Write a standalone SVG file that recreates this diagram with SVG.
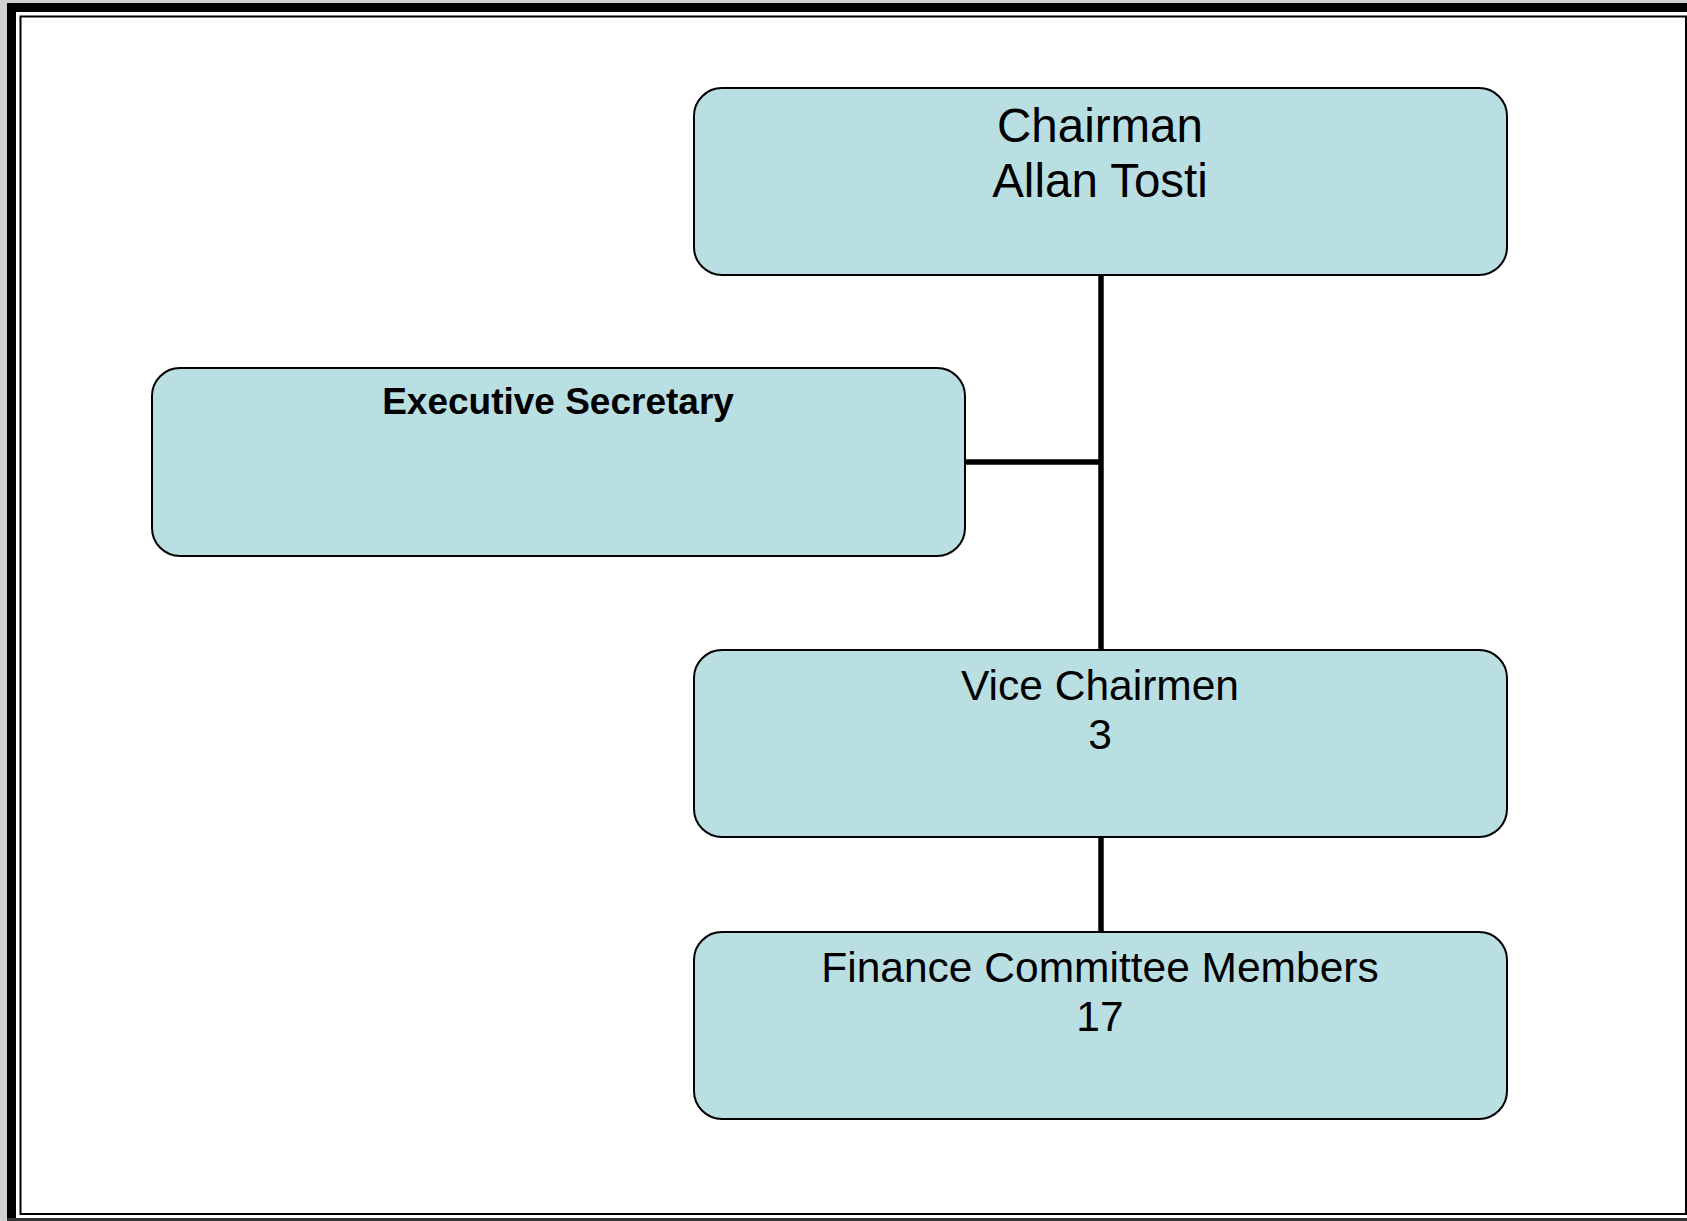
<svg xmlns="http://www.w3.org/2000/svg" width="1687" height="1221" viewBox="0 0 1687 1221">
  <style>
    .node { fill: #badfe3; stroke: #000; stroke-width: 2; }
    .t { font-family: "Liberation Sans", Arial, sans-serif; fill: #000; text-anchor: middle; }
    .conn { stroke: #000; stroke-width: 5.5; fill: none; }
  </style>
  <rect x="0" y="0" width="1687" height="1221" fill="#d0d0d0"/>
  <rect x="7" y="3" width="1680" height="1215" fill="#fff"/>
  <rect x="7" y="3" width="9" height="1215" fill="#000"/>
  <rect x="7" y="3" width="1680" height="9" fill="#000"/>
  <rect x="20.5" y="16.5" width="1665.5" height="1197.5" fill="#fff" stroke="#000" stroke-width="2"/>
  <rect x="7" y="1218" width="1680" height="3" fill="#333"/>

  <g id="connectors">
    <line class="conn" x1="1101" y1="275" x2="1101" y2="650"/>
    <line class="conn" x1="965" y1="462" x2="1101" y2="462"/>
    <line class="conn" x1="1101" y1="837" x2="1101" y2="932"/>
  </g>

  <g id="chairman">
    <rect class="node" x="694" y="88" width="813" height="187" rx="28" ry="28"/>
    <text class="t" x="1100" y="142" font-size="47.5">Chairman</text>
    <text class="t" x="1100" y="197" font-size="47.5">Allan Tosti</text>
  </g>
  <g id="exec-secretary">
    <rect class="node" x="152" y="368" width="813" height="188" rx="28" ry="28"/>
    <text class="t" x="558" y="414" font-size="37" font-weight="bold">Executive Secretary</text>
  </g>
  <g id="vice-chairmen">
    <rect class="node" x="694" y="650" width="813" height="187" rx="28" ry="28"/>
    <text class="t" x="1100" y="700" font-size="42.5">Vice Chairmen</text>
    <text class="t" x="1100" y="749" font-size="42.5">3</text>
  </g>
  <g id="finance-committee">
    <rect class="node" x="694" y="932" width="813" height="187" rx="28" ry="28"/>
    <text class="t" x="1100" y="982" font-size="42.5">Finance Committee Members</text>
    <text class="t" x="1100" y="1031" font-size="42.5">17</text>
  </g>
</svg>
